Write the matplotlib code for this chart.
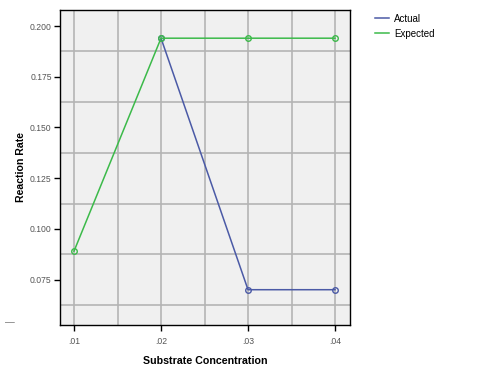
import matplotlib
matplotlib.use("Agg")
import matplotlib.pyplot as plt
import numpy as np
from matplotlib.lines import Line2D

plt.rcParams['font.family'] = ['Liberation Sans', 'DejaVu Sans']

concentration = [0.01, 0.02, 0.03, 0.04]
tick_labels = [".01", ".02", ".03", ".04"]
actual = [np.nan, 0.194, 0.070, 0.070]
expected = [0.089, 0.194, 0.194, 0.194]
yticks = [0.075, 0.100, 0.125, 0.150, 0.175, 0.200]

fig = plt.figure(figsize=(5, 3.73), dpi=100)
ax = fig.add_axes([60/500, 1-325/373, 290/500, 315/373])
ax.set_facecolor("#f0f0f0")

blue = "#4b5aa6"
green = "#3cba4a"
ax.plot(concentration, actual, color=blue, lw=1.1, marker="o", ms=4,
        mfc="none", mec=blue, mew=1, zorder=3)
ax.plot(concentration, expected, color=green, lw=1.1, marker="o", ms=4,
        mfc="none", mec=green, mew=1, zorder=4)

ax.set_xlim(0.00839, 0.04172)
ax.set_ylim(0.0526, 0.2079)
ax.set_xticks(concentration)
ax.set_xticklabels(tick_labels)
ax.set_yticks(yticks)
ax.set_yticklabels([f"{v:.3f}" for v in yticks])

xg = np.arange(0.01, 0.0401, 0.005)
for x in xg:
    ax.axvline(x, color="#b4b4b4", lw=1.2, zorder=1)
for y in [0.0625, 0.0875, 0.1125, 0.1375, 0.1625, 0.1875]:
    ax.axhline(y, color="#b4b4b4", lw=1.2, zorder=1)

for s in ax.spines.values():
    s.set_color("black")
    s.set_linewidth(1.0)

ax.tick_params(axis="both", direction="out", length=4, width=1, color="black",
               labelsize=6.2, labelcolor="#555555", pad=2)
ax.tick_params(axis="x", pad=5)

ax.set_xlabel("Substrate Concentration", fontsize=7.7, fontweight="bold", labelpad=7)
ax.set_ylabel("Reaction Rate", fontsize=7.6, fontweight="bold", labelpad=3)

handles = [Line2D([], [], color=blue, lw=1.1), Line2D([], [], color=green, lw=1.1)]
fig.legend(handles, ["Actual", "Expected"], loc="upper left",
           bbox_to_anchor=(371/500, 1-10/373), frameon=False,
           fontsize=7, handlelength=1.4, handletextpad=0.6, labelspacing=0.5,
           borderaxespad=0)

fig.text(10/500, 1-322/373, "—", fontsize=7, color="#777777", ha="center", va="center")

fig.savefig("out.png", dpi=100)
